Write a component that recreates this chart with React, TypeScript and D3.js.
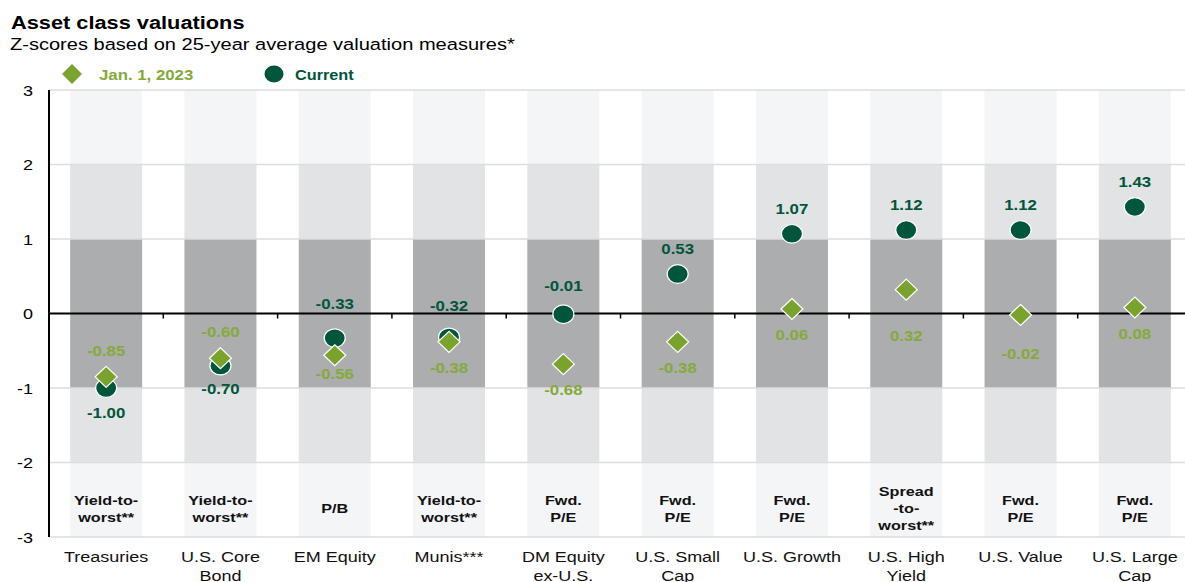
import React, { useEffect } from "react";
import * as d3 from "d3";

const categories = [
  ["Treasuries"],
  ["U.S. Core", "Bond"],
  ["EM Equity"],
  ["Munis***"],
  ["DM Equity", "ex-U.S."],
  ["U.S. Small", "Cap"],
  ["U.S. Growth"],
  ["U.S. High", "Yield"],
  ["U.S. Value"],
  ["U.S. Large", "Cap"],
];
const measures = [
  ["Yield-to-", "worst**"],
  ["Yield-to-", "worst**"],
  ["P/B"],
  ["Yield-to-", "worst**"],
  ["Fwd.", "P/E"],
  ["Fwd.", "P/E"],
  ["Fwd.", "P/E"],
  ["Spread", "-to-", "worst**"],
  ["Fwd.", "P/E"],
  ["Fwd.", "P/E"],
];
const jan2023 = [-0.85, -0.6, -0.56, -0.38, -0.68, -0.38, 0.06, 0.32, -0.02, 0.08];
const current = [-1.0, -0.7, -0.33, -0.32, -0.01, 0.53, 1.07, 1.12, 1.12, 1.43];
// label placement: 1 = above marker, -1 = below marker
const janLabelSide = [1, 1, -1, -1, -1, -1, -1, -1, -1, -1];
const curLabelSide = [-1, -1, 1, 1, 1, 1, 1, 1, 1, 1];
const janLabelExtra = [0, 0, -7, 0, 0, 0, 0, 20, 13, 0];
const curLabelExtra = [0, -2, 9, 6, 3, 0, 0, 0, 0, 0];
const yTicks = [3, 2, 1, 0, -1, -2, -3];
const bands = [
  { from: 3, to: 2, color: "#f4f5f7" },
  { from: 2, to: 1, color: "#e2e3e5" },
  { from: 1, to: -1, color: "#acadaf" },
  { from: -1, to: -2, color: "#e2e3e5" },
  { from: -2, to: -3, color: "#f4f5f7" },
];

const DARK = "#00563a";
const LIGHT = "#7aa32d";
const LIGHT_TXT = "#84aa3a";
const FONT = "'Liberation Sans', Arial, sans-serif";
const SX = 1.2;

type TProps = {
  x: number;
  y: number;
  size: number;
  bold?: boolean;
  anchor?: "start" | "middle" | "end";
  fill?: string;
  sx?: number;
  children: React.ReactNode;
};
function T({ x, y, size, bold, anchor = "start", fill = "#111", sx = SX, children }: TProps) {
  return (
    <text
      transform={`translate(${x},${y}) scale(${sx},1)`}
      fontSize={size}
      fontWeight={bold ? "bold" : "normal"}
      textAnchor={anchor}
      fill={fill}
    >
      {children}
    </text>
  );
}

export default function App() {
  useEffect(() => {
    document.body.style.margin = "0";
  }, []);
  const W = 1185;
  const H = 582;
  const y = d3.scaleLinear().domain([-3, 3]).range([537, 90]);
  const x = d3
    .scaleBand<number>()
    .domain(d3.range(categories.length))
    .range([49, 49 + 114.3 * 10])
    .paddingInner(0)
    .paddingOuter(0);
  const bw = x.bandwidth();
  const barW = bw * 0.63;
  const cx = (i: number) => (x(i) as number) + bw / 2;

  return (
    <svg width={W} height={H} style={{ display: "block", fontFamily: FONT }}>
      <rect width={W} height={H} fill="#fff" />
      <T x={11} y={29} size={18} bold fill="#000" sx={1.21}>
        Asset class valuations
      </T>
      <T x={10} y={50} size={17} fill="#000" sx={1.18}>
        Z-scores based on 25-year average valuation measures*
      </T>
      {/* legend */}
      <path d="M72,64 L82,74 L72,84 L62,74 Z" fill={LIGHT} />
      <T x={99} y={80} size={14} bold fill={LIGHT_TXT} sx={1.2}>
        Jan. 1, 2023
      </T>
      <ellipse cx={274} cy={74} rx={9.5} ry={8.5} fill={DARK} />
      <T x={295} y={80} size={14} bold fill={DARK} sx={1.16}>
        Current
      </T>

      {/* bars */}
      {categories.map((_, i) =>
        bands.map((b, j) => (
          <rect
            key={`b${i}-${j}`}
            x={cx(i) - barW / 2}
            y={y(b.from)}
            width={barW}
            height={y(b.to) - y(b.from)}
            fill={b.color}
          />
        ))
      )}
      {/* gridlines */}
      {yTicks
        .filter((t) => t !== 0)
        .map((t) => (
          <line key={`g${t}`} x1={49} x2={W} y1={y(t)} y2={y(t)} stroke="#dcdddf" strokeWidth={1.5} />
        ))}
      {/* y axis */}
      <line x1={49} x2={49} y1={y(3)} y2={y(-3)} stroke="#000" strokeWidth={2} />
      <line x1={49} x2={W} y1={y(0)} y2={y(0)} stroke="#000" strokeWidth={2} />
      {categories.slice(1).map((_, i) => (
        <line
          key={`t${i}`}
          x1={x(i + 1) as number}
          x2={x(i + 1) as number}
          y1={y(0)}
          y2={y(0) + 5}
          stroke="#000"
          strokeWidth={1.5}
        />
      ))}
      {yTicks.map((t) => (
        <T key={`yl${t}`} x={33} y={y(t) + 5.5} size={15} anchor="end" fill="#000">
          {t}
        </T>
      ))}

      {/* measure labels */}
      {measures.map((m, i) =>
        m.map((line, k) => (
          <T
            key={`m${i}-${k}`}
            x={cx(i)}
            y={508 + 5 + (k - (m.length - 1) / 2) * 17}
            size={13.5}
            bold
            anchor="middle"
            fill="#111"
          >
            {line}
          </T>
        ))
      )}
      {/* category labels */}
      {categories.map((c, i) =>
        c.map((line, k) => (
          <T key={`c${i}-${k}`} x={cx(i)} y={562 + k * 19} size={15} anchor="middle" fill="#111">
            {line}
          </T>
        ))
      )}

      {/* current markers */}
      {current.map((v, i) => (
        <ellipse key={`cc${i}`} cx={cx(i)} cy={y(v)} rx={10.5} ry={9.3} fill={DARK} stroke="#fff" strokeWidth={1.2} />
      ))}
      {/* jan markers */}
      {jan2023.map((v, i) => {
        const px = cx(i);
        const py = y(v);
        return (
          <path
            key={`jd${i}`}
            d={`M${px},${py - 10.5} L${px + 11},${py} L${px},${py + 10.5} L${px - 11},${py} Z`}
            fill={LIGHT}
            stroke="#fff"
            strokeWidth={1.2}
          />
        );
      })}
      {/* value labels */}
      {current.map((v, i) => (
        <T
          key={`cl${i}`}
          x={cx(i)}
          y={y(v) - curLabelSide[i] * (25 + curLabelExtra[i]) + 5}
          size={14}
          bold
          anchor="middle"
          fill={DARK}
        >
          {v.toFixed(2)}
        </T>
      ))}
      {jan2023.map((v, i) => (
        <T
          key={`jl${i}`}
          x={cx(i)}
          y={y(v) - janLabelSide[i] * (26 + janLabelExtra[i]) + 5}
          size={14}
          bold
          anchor="middle"
          fill={LIGHT_TXT}
        >
          {v.toFixed(2)}
        </T>
      ))}
    </svg>
  );
}
